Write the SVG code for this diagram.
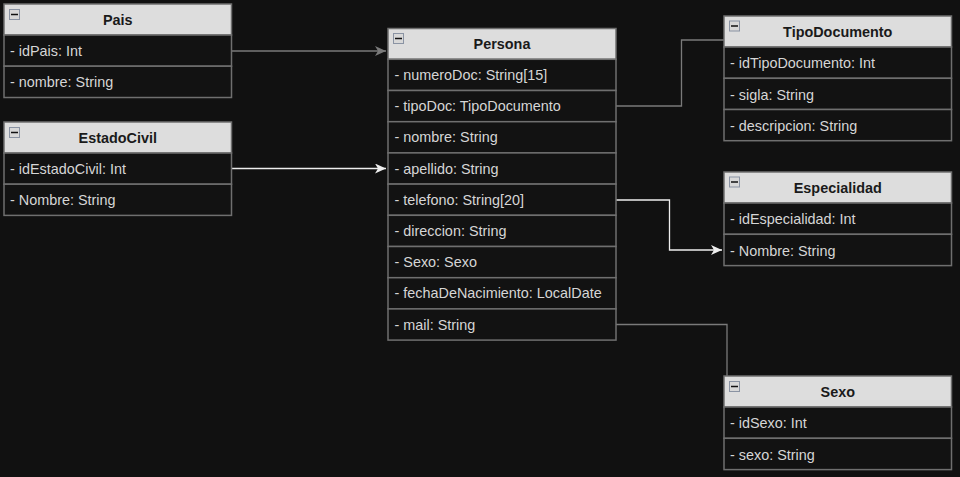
<svg xmlns="http://www.w3.org/2000/svg" width="960" height="477" viewBox="0 0 960 477">
<style>
.hd{fill:#dddddd;stroke:#6f6f6f;stroke-width:1.5}
.rw{fill:#121212;stroke:#6f6f6f;stroke-width:1.5}
.ht{font-family:"Liberation Sans",Arial,sans-serif;font-size:14.4px;font-weight:bold;fill:#1a1a1a;text-anchor:middle}
.rt{font-family:"Liberation Sans",Arial,sans-serif;font-size:14.4px;fill:#d6d6d6}
.ic{fill:#d8d8d8;stroke:#8a93a3;stroke-width:1}
.icl{stroke:#111;stroke-width:1.5}
.cg{fill:none;stroke:#7a7a7a;stroke-width:1.3}
.cw{fill:none;stroke:#eeeeee;stroke-width:1.3}
</style>
<defs>
<marker id="ag" markerWidth="12" markerHeight="10" refX="11" refY="5" orient="auto" markerUnits="userSpaceOnUse"><path d="M0,0 L11,5 L0,10 L3,5 Z" fill="#7a7a7a"/></marker>
<marker id="aw" markerWidth="12" markerHeight="10" refX="11" refY="5" orient="auto" markerUnits="userSpaceOnUse"><path d="M0,0 L11,5 L0,10 L3,5 Z" fill="#eeeeee"/></marker>
</defs>
<rect width="960" height="477" fill="#111111"/>

<g id="connectors">
<path class="cg" d="M232,51 H386" marker-end="url(#ag)"/>
<path class="cw" d="M232,168.5 H386" marker-end="url(#aw)"/>
<path class="cg" d="M616,106 H681.5 V40 H724"/>
<path class="cw" d="M616,200 H669.5 V250 H722" marker-end="url(#aw)"/>
<path class="cg" d="M616,324.5 H727 V376"/>
</g>

<g id="Pais">
<rect class="hd" x="4" y="4" width="227.5" height="31"/>
<rect class="ic" x="9.5" y="9.5" width="10" height="10"/><line class="icl" x1="11" y1="14.5" x2="18" y2="14.5"/>
<text class="ht" x="117.75" y="24.5">Pais</text>
<rect class="rw" x="4" y="35" width="227.5" height="31.2"/>
<text class="rt" x="10" y="55.5">- idPais: Int</text>
<rect class="rw" x="4" y="66.2" width="227.5" height="31.3"/>
<text class="rt" x="10" y="87">- nombre: String</text>
</g>

<g id="EstadoCivil">
<rect class="hd" x="4" y="122" width="227.5" height="31"/>
<rect class="ic" x="9.5" y="127.5" width="10" height="10"/><line class="icl" x1="11" y1="132.5" x2="18" y2="132.5"/>
<text class="ht" x="117.75" y="142.5">EstadoCivil</text>
<rect class="rw" x="4" y="153" width="227.5" height="31.2"/>
<text class="rt" x="10" y="173.5">- idEstadoCivil: Int</text>
<rect class="rw" x="4" y="184.2" width="227.5" height="31.2"/>
<text class="rt" x="10" y="205">- Nombre: String</text>
</g>

<g id="Persona">
<rect class="hd" x="388" y="28.5" width="228" height="30.8"/>
<rect class="ic" x="393.5" y="33.5" width="10" height="10"/><line class="icl" x1="395" y1="38.5" x2="402" y2="38.5"/>
<text class="ht" x="502" y="49">Persona</text>
<rect class="rw" x="388" y="59.3" width="228" height="31.2"/>
<text class="rt" x="394.5" y="80">- numeroDoc: String[15]</text>
<rect class="rw" x="388" y="90.5" width="228" height="31.2"/>
<text class="rt" x="394.5" y="111.2">- tipoDoc: TipoDocumento</text>
<rect class="rw" x="388" y="121.7" width="228" height="31.2"/>
<text class="rt" x="394.5" y="142.4">- nombre: String</text>
<rect class="rw" x="388" y="152.9" width="228" height="31.2"/>
<text class="rt" x="394.5" y="173.6">- apellido: String</text>
<rect class="rw" x="388" y="184.1" width="228" height="31.2"/>
<text class="rt" x="394.5" y="204.8">- telefono: String[20]</text>
<rect class="rw" x="388" y="215.3" width="228" height="31.2"/>
<text class="rt" x="394.5" y="236">- direccion: String</text>
<rect class="rw" x="388" y="246.5" width="228" height="31.2"/>
<text class="rt" x="394.5" y="267.2">- Sexo: Sexo</text>
<rect class="rw" x="388" y="277.7" width="228" height="31.2"/>
<text class="rt" x="394.5" y="298.4">- fechaDeNacimiento: LocalDate</text>
<rect class="rw" x="388" y="308.9" width="228" height="31.2"/>
<text class="rt" x="394.5" y="329.6">- mail: String</text>
</g>

<g id="TipoDocumento">
<rect class="hd" x="724" y="16" width="227.5" height="31"/>
<rect class="ic" x="729.5" y="21" width="10" height="10"/><line class="icl" x1="731" y1="26" x2="738" y2="26"/>
<text class="ht" x="837.75" y="36.5">TipoDocumento</text>
<rect class="rw" x="724" y="47" width="227.5" height="31.3"/>
<text class="rt" x="730" y="68">- idTipoDocumento: Int</text>
<rect class="rw" x="724" y="78.3" width="227.5" height="31.2"/>
<text class="rt" x="730" y="99.5">- sigla: String</text>
<rect class="rw" x="724" y="109.5" width="227.5" height="31.2"/>
<text class="rt" x="730" y="130.5">- descripcion: String</text>
</g>

<g id="Especialidad">
<rect class="hd" x="724" y="172" width="227.5" height="31"/>
<rect class="ic" x="729.5" y="177" width="10" height="10"/><line class="icl" x1="731" y1="182" x2="738" y2="182"/>
<text class="ht" x="837.75" y="192.5">Especialidad</text>
<rect class="rw" x="724" y="203" width="227.5" height="31.3"/>
<text class="rt" x="730" y="224">- idEspecialidad: Int</text>
<rect class="rw" x="724" y="234.3" width="227.5" height="31.3"/>
<text class="rt" x="730" y="255.5">- Nombre: String</text>
</g>

<g id="Sexo">
<rect class="hd" x="724" y="376" width="227.5" height="31"/>
<rect class="ic" x="729.5" y="381.5" width="10" height="10"/><line class="icl" x1="731" y1="386.5" x2="738" y2="386.5"/>
<text class="ht" x="837.75" y="396.5">Sexo</text>
<rect class="rw" x="724" y="407" width="227.5" height="31.3"/>
<text class="rt" x="730" y="428">- idSexo: Int</text>
<rect class="rw" x="724" y="438.3" width="227.5" height="31.3"/>
<text class="rt" x="730" y="459.5">- sexo: String</text>
</g>
</svg>
